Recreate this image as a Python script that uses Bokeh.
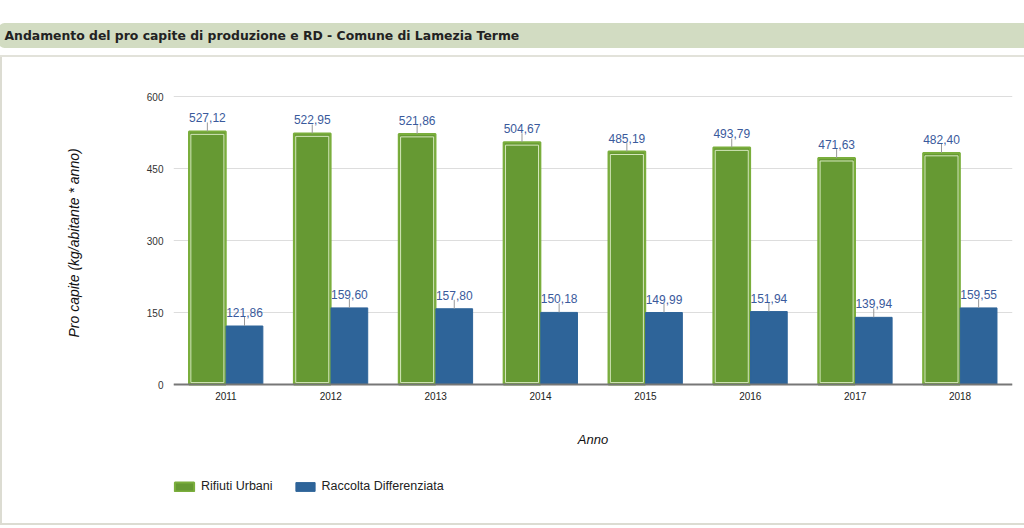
from bokeh.plotting import figure
from bokeh.models import (ColumnDataSource, FactorRange, Range1d, FixedTicker, Legend,
                          LegendItem, Title, Label)
from bokeh.transform import dodge
from bokeh.core.properties import value
from bokeh.embed import file_html
from bokeh.resources import INLINE
import math

# ---- data ----
years = ["2011", "2012", "2013", "2014", "2015", "2016", "2017", "2018"]
rifiuti_urbani = [527.12, 522.95, 521.86, 504.67, 485.19, 493.79, 471.63, 482.40]
raccolta_diff = [121.86, 159.60, 157.80, 150.18, 149.99, 151.94, 139.94, 159.55]
y_ticks = [0, 150, 300, 450, 600]
title_text = "Andamento del pro capite di produzione e RD - Comune di Lamezia Terme"
y_title = "Pro capite (kg/abitante * anno)"
x_title = "Anno"
series_names = ["Rifiuti Urbani", "Raccolta Differenziata"]


def fmt(v):
    return f"{v:.2f}".replace(".", ",")


GREEN = "#669933"
GREEN_EDGE = "#7aae3c"
GREEN_INNER = "#d6e8bd"
BLUE = "#2e6499"
LABEL_BLUE = "#3a5a9c"
FONT = "Liberation Sans"

src = ColumnDataSource(dict(
    year=years,
    ru=rifiuti_urbani,
    rd=raccolta_diff,
    ru_in_top=[v - 6 for v in rifiuti_urbani],
    ru_lab=[fmt(v) for v in rifiuti_urbani],
    rd_lab=[fmt(v) for v in raccolta_diff],
))

# layout constants (page pixels)
W, H = 1024, 528
FRAME_L, FRAME_R = 173, 1012
FRAME_T, FRAME_B = 57, 500           # plotting frame (extended to hold the legend)
ZERO_Y, TOP_Y = 384, 96              # where 0 and 600 sit
PX_PER_UNIT = (ZERO_Y - TOP_Y) / 600.0

# page box lines drawn as CSS backgrounds behind a transparent canvas
box_styles = {
    "background-color": "white",
    "background-image": ("linear-gradient(#e2e2da,#e2e2da),"
                         "linear-gradient(#dcdcd2,#dcdcd2),"
                         "linear-gradient(#dcdcd2,#dcdcd2)"),
    "background-size": "1024px 2px, 2px 468px, 1024px 2px",
    "background-position": "0px 55px, 0px 57px, 0px 523px",
    "background-repeat": "no-repeat",
}

header = Title(text=title_text, align="left", text_font="DejaVu Sans",
               text_font_style="bold", text_font_size="12.4px", text_color="#222222",
               background_fill_color="#d2dcc2", border_radius=6,
               padding=dict(left=6, right=560, top=5, bottom=5),
               offset=-FRAME_L - 2, standoff=19)

y_start = -(FRAME_B - ZERO_Y) / PX_PER_UNIT
y_end = 600 + (TOP_Y - FRAME_T) / PX_PER_UNIT

p = figure(width=W, height=H, title=header,
           x_range=FactorRange(factors=years, range_padding=0),
           y_range=Range1d(y_start, y_end), output_backend="svg", toolbar_location=None,
           min_border_left=FRAME_L, min_border_right=W - FRAME_R,
           min_border_top=FRAME_T, min_border_bottom=H - FRAME_B, styles=box_styles)
p.outline_line_color = None
p.background_fill_color = None
p.border_fill_color = None

# bars
r_ru = p.vbar(x=dodge("year", -0.177, range=p.x_range), top="ru", width=0.35, source=src,
              fill_color=GREEN, line_color=GREEN_EDGE, line_width=2)
p.vbar(x=dodge("year", -0.177, range=p.x_range), top="ru_in_top", bottom=4, width=0.315,
       source=src, fill_color=None, line_color=GREEN_INNER, line_width=1)
r_rd = p.vbar(x=dodge("year", 0.177, range=p.x_range), top="rd", width=0.35, source=src,
              fill_color=BLUE, line_color=BLUE, line_width=1)

# leader lines + value labels
for col, off, lab in (("ru", -0.177, "ru_lab"), ("rd", 0.177, "rd_lab")):
    p.ray(x=dodge("year", off, range=p.x_range), y=col, length=9, length_units="screen",
          angle=math.pi / 2, source=src, line_color="#999999", line_width=1)
    p.text(x=dodge("year", off, range=p.x_range), y=col, text=lab, source=src,
           y_offset=-9, text_align="center", text_baseline="bottom",
           text_color=LABEL_BLUE, text_font=value(FONT), text_font_size="12px")

# y axis
p.yaxis.ticker = FixedTicker(ticks=y_ticks)
p.yaxis.axis_line_color = None
p.yaxis.major_tick_line_color = None
p.yaxis.minor_tick_line_color = None
p.yaxis.major_tick_out = 0
p.yaxis.minor_tick_out = 0
p.yaxis.major_label_text_font = FONT
p.yaxis.major_label_text_font_size = "10px"
p.yaxis.major_label_text_color = "#333333"
p.yaxis.major_label_standoff = 10

# x axis pinned at y = 0
p.xaxis.fixed_location = 0
p.xaxis.axis_line_color = "#777777"
p.xaxis.axis_line_width = 2
p.xaxis.major_tick_line_color = None
p.xaxis.minor_tick_line_color = None
p.xaxis.major_tick_out = 0
p.xaxis.minor_tick_out = 0
p.xaxis.major_label_text_font = FONT
p.xaxis.major_label_text_font_size = "10px"
p.xaxis.major_label_text_color = "#222222"
p.xaxis.major_label_standoff = 7

p.xgrid.grid_line_color = None
p.ygrid.grid_line_color = "#dddddd"
p.ygrid.grid_line_width = 1

# y axis title (rotated, in the left panel)
p.add_layout(Title(text=y_title, align="left", offset=FRAME_B - 337, standoff=123,
                   text_font=FONT, text_font_style="italic", text_font_size="14px",
                   text_color="#111111"), "left")

# x axis title
p.add_layout(Label(x=(FRAME_R - FRAME_L) / 2, y=FRAME_B - 439, x_units="screen",
                   y_units="screen", text=x_title, text_align="center",
                   text_baseline="middle", text_font=FONT, text_font_style="italic",
                   text_font_size="13px", text_color="#111111"))

# legend
legend = Legend(items=[LegendItem(label=series_names[0], renderers=[r_ru]),
                       LegendItem(label=series_names[1], renderers=[r_rd])],
                orientation="horizontal", location=(-1, FRAME_B - 493), margin=0, padding=0,
                spacing=20, glyph_width=24, glyph_height=11, label_standoff=5,
                label_height=11,
                label_text_font=FONT, label_text_font_size="12.5px", label_text_color="#222222",
                border_line_color=None, background_fill_alpha=0)
p.add_layout(legend, "center")

open("out.html", "w").write(file_html(p, INLINE))
